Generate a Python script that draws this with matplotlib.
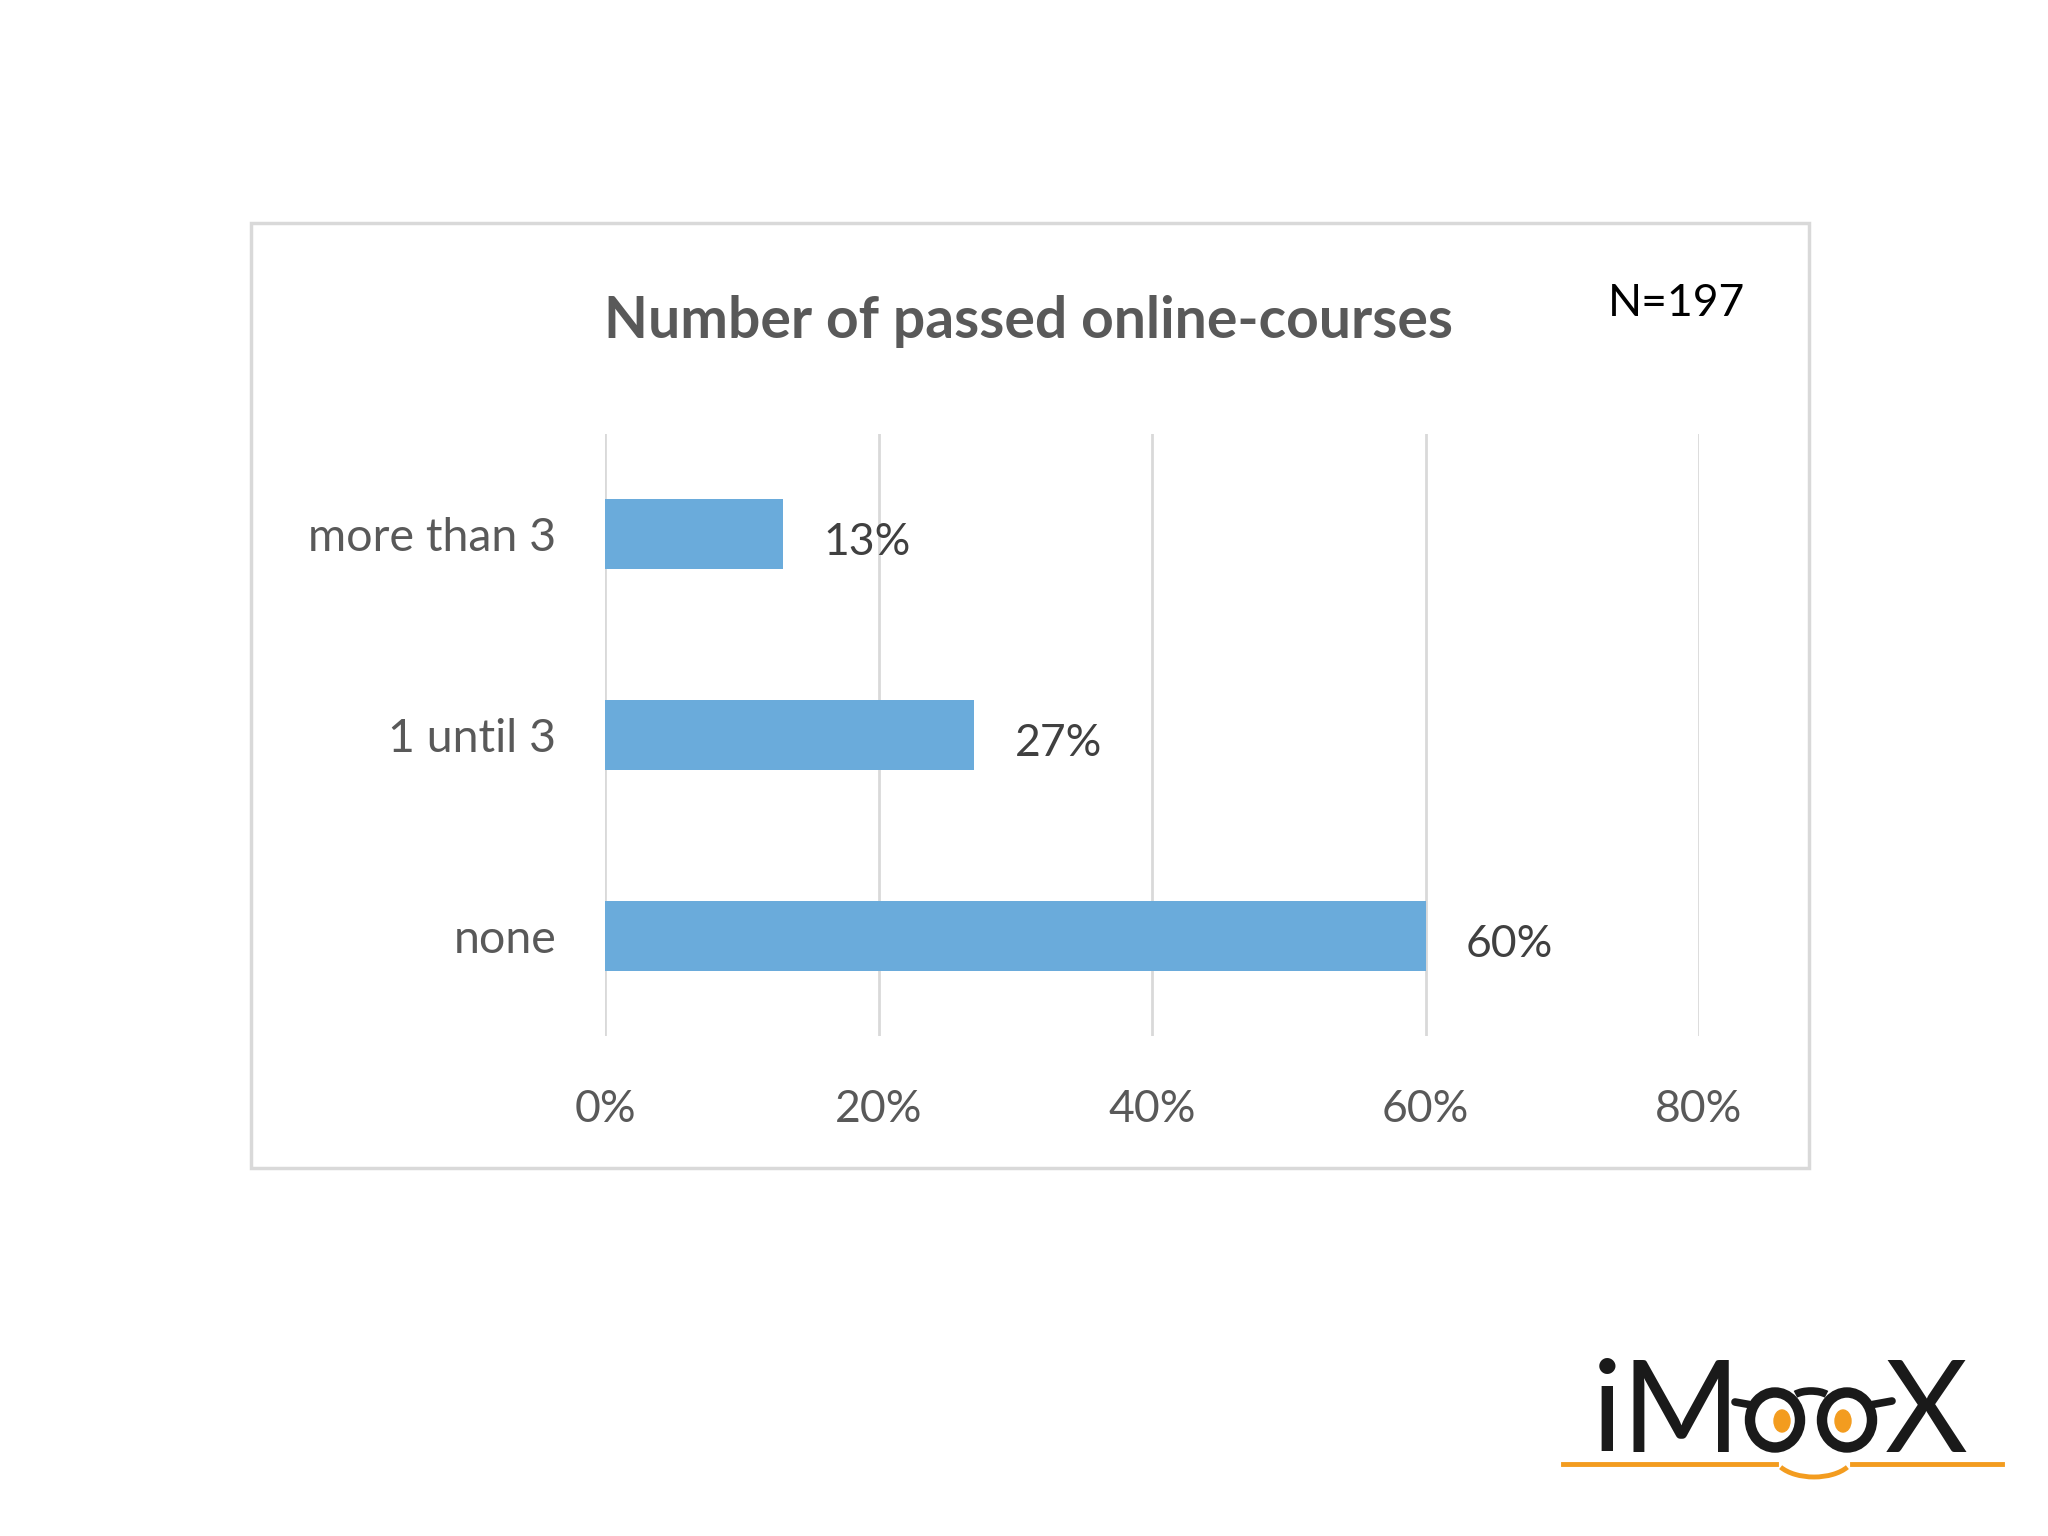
import matplotlib
matplotlib.use("Agg")
import matplotlib.pyplot as plt
from matplotlib.patches import Rectangle, Ellipse, Arc
from matplotlib.lines import Line2D
from matplotlib.transforms import ScaledTranslation

categories = ["none", "1 until 3", "more than 3"]
values = [60, 27, 13]
xticks = [0, 20, 40, 60, 80]
xtick_labels = ["0%", "20%", "40%", "60%", "80%"]
title = "Number of passed online-courses"
note = "N=197"

W, H = 2048, 1536
fig = plt.figure(figsize=(W / 100, H / 100), dpi=100)
fig.patch.set_facecolor("white")

FONT = "Lato"
GRAY = "#595959"

def fx(px):
    return px / W

def fy(py):
    return 1 - py / H

# frame around chart
fig.patches.append(Rectangle((fx(251), fy(1168)), fx(1809) - fx(251), fy(223) - fy(1168),
                             transform=fig.transFigure, fill=False, edgecolor="#d9d9d9",
                             linewidth=2.5, zorder=0))

ax = fig.add_axes([fx(605), fy(1036), fx(1699) - fx(605), fy(434) - fy(1036)])
ypos = list(range(len(categories)))
ax.barh(ypos, values, height=0.35, color="#6AABDB", zorder=2)
ax.set_xlim(0, 80)
ax.set_ylim(-0.5, 2.5)
ax.set_xticks(xticks)
ax.set_xticklabels(xtick_labels, fontsize=32, color=GRAY, family=FONT)
ax.set_yticks(ypos)
ax.set_yticklabels(categories, fontsize=33.5, color=GRAY, family=FONT)
shift = ScaledTranslation(0, -0.045, fig.dpi_scale_trans)
for lbl in ax.get_yticklabels():
    lbl.set_verticalalignment("center_baseline")
    lbl.set_transform(lbl.get_transform() + shift)
ax.tick_params(axis="x", length=0, pad=38)
ax.tick_params(axis="y", length=0, pad=35)
ax.grid(axis="x", color="#d9d9d9", linewidth=2, zorder=0)
for s in ax.spines.values():
    s.set_visible(False)
ax.set_axisbelow(True)
for y, v in zip(ypos, values):
    ax.annotate(f"{v}%", (v, y), xytext=(29, -3.2), textcoords="offset points",
                va="center_baseline", ha="left", fontsize=32, color="#404040", family=FONT)

fig.text(fx(1029), fy(321), title, ha="center", va="center", fontsize=41,
         fontweight="bold", color=GRAY, family=FONT)
fig.text(fx(1677), fy(304), note, ha="center", va="center", fontsize=32,
         color="black", family=FONT)

# iMooX logo
lx = fig.add_axes([0, 0, 1, 1], facecolor="none")
lx.set_xlim(0, W)
lx.set_ylim(H, 0)
lx.axis("off")
INK = "#1a1a1a"
ORANGE = "#F39C1F"
lx.text(1592, 1452, "iM", fontsize=92, family=FONT, color=INK, ha="left", va="baseline")
lx.text(1926, 1452, "X", fontsize=92, family=FONT, color=INK, ha="center", va="baseline")
for cx, px in ((1775, 1782), (1847, 1843)):
    lx.add_patch(Ellipse((cx, 1420), 50, 55, fill=False, edgecolor=INK, linewidth=7.5))
    lx.add_patch(Ellipse((px, 1421), 16, 22, color=ORANGE))
lx.add_line(Line2D([1735, 1752], [1402, 1405], color=INK, linewidth=5.5, solid_capstyle="round"))
lx.add_line(Line2D([1870, 1892], [1405, 1401], color=INK, linewidth=5.5, solid_capstyle="round"))
lx.add_patch(Arc((1811, 1400), 40, 18, theta1=200, theta2=340, edgecolor=INK, linewidth=5.5))
lx.add_line(Line2D([1563, 1776], [1464, 1464], color=ORANGE, linewidth=3.5))
lx.add_line(Line2D([1852, 2002], [1464, 1464], color=ORANGE, linewidth=3.5))
lx.add_patch(Arc((1814, 1455), 80, 44, theta1=20, theta2=160, edgecolor=ORANGE, linewidth=3.5))

fig.savefig("out.png", dpi=100, facecolor="white")
